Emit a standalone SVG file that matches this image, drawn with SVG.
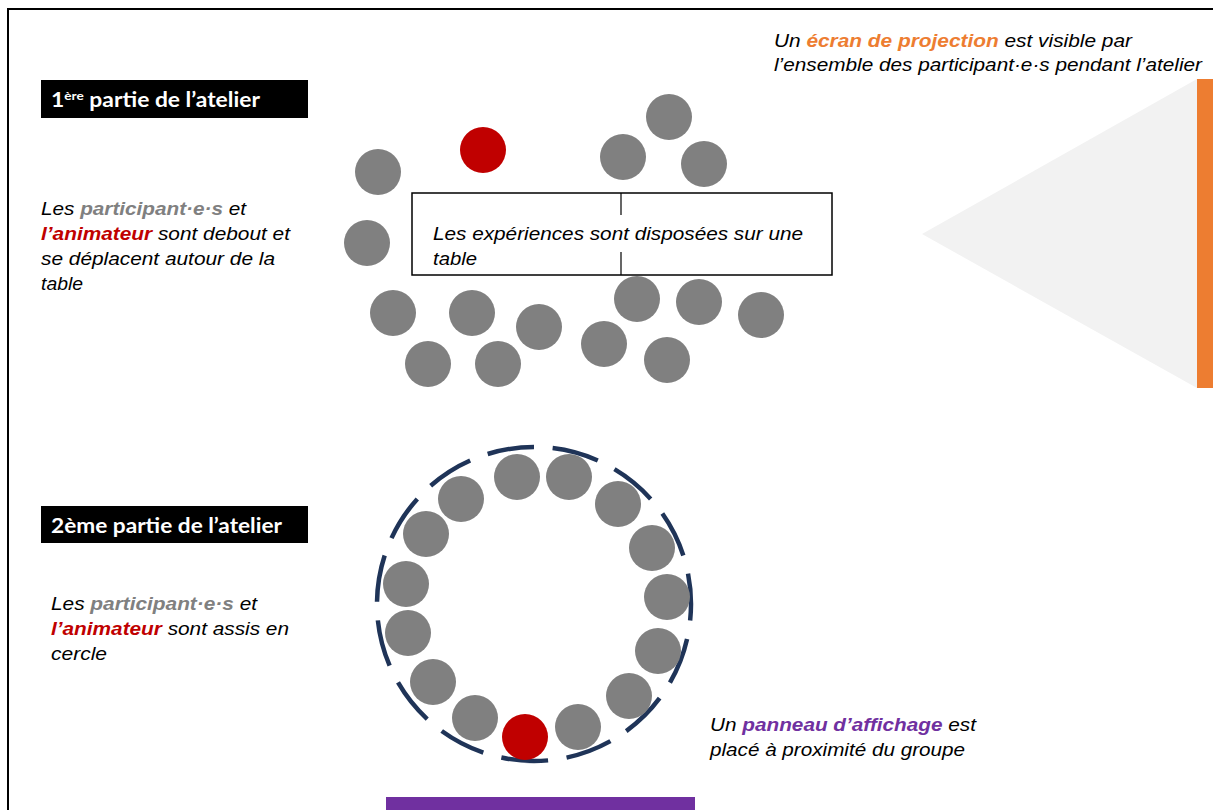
<svg xmlns="http://www.w3.org/2000/svg" width="1213" height="810" viewBox="0 0 1213 810">
<style>
.p{fill:#808080}
.a{fill:#C00000}
.t{font-family:"Liberation Sans",Arial,sans-serif;font-style:italic;font-size:18px;fill:#000}
.h{font-family:Lato,"Open Sans",sans-serif;font-weight:bold;font-size:20px;fill:#fff}
.bg{font-weight:bold;fill:#808080}
.br{font-weight:bold;fill:#C00000}
.bo{font-weight:bold;fill:#ED7D31}
.bp{font-weight:bold;fill:#7030A0}
</style>
<rect width="1213" height="810" fill="#fff"/>
<rect x="8" y="9" width="1300" height="900" fill="none" stroke="#000" stroke-width="2"/>

<g id="screen">
<polygon points="922,234 1197,79 1197,388" fill="#F2F2F2"/>
<rect x="1197" y="79" width="20" height="309" fill="#ED7D31"/>
<text class="t" x="774" y="47" textLength="358" lengthAdjust="spacingAndGlyphs">Un <tspan class="bo">écran de projection</tspan> est visible par</text>
<text class="t" x="774" y="71" textLength="428" lengthAdjust="spacingAndGlyphs">l’ensemble des participant·e·s pendant l’atelier</text>
</g>

<g id="header1">
<rect x="41" y="80" width="267" height="38" fill="#000"/>
<text class="h" x="51" y="107" textLength="209" lengthAdjust="spacingAndGlyphs">1<tspan font-size="12" dy="-7">ère</tspan><tspan dy="7"> partie de l’atelier</tspan></text>
</g>
<g id="header2">
<rect x="41" y="506" width="267" height="37" fill="#000"/>
<text class="h" x="51" y="533" textLength="231" lengthAdjust="spacingAndGlyphs">2ème partie de l’atelier</text>
</g>

<g id="desc1">
<text class="t" x="41" y="215" textLength="205" lengthAdjust="spacingAndGlyphs">Les <tspan class="bg">participant·e·s</tspan> et</text>
<text class="t" x="41" y="240" textLength="249" lengthAdjust="spacingAndGlyphs"><tspan class="br">l’animateur</tspan> sont debout et</text>
<text class="t" x="41" y="265" textLength="234" lengthAdjust="spacingAndGlyphs">se déplacent autour de la</text>
<text class="t" x="41" y="290" textLength="42" lengthAdjust="spacingAndGlyphs">table</text>
</g>

<g id="desc2">
<text class="t" x="51" y="610" textLength="206" lengthAdjust="spacingAndGlyphs">Les <tspan class="bg">participant·e·s</tspan> et</text>
<text class="t" x="51" y="635" textLength="238" lengthAdjust="spacingAndGlyphs"><tspan class="br">l’animateur</tspan> sont assis en</text>
<text class="t" x="51" y="660" textLength="56" lengthAdjust="spacingAndGlyphs">cercle</text>
</g>

<g id="table">
<rect x="412" y="193" width="420" height="82" fill="#fff" stroke="#000" stroke-width="1.5"/>
<line x1="621" y1="193" x2="621" y2="215" stroke="#000" stroke-width="1.2"/>
<line x1="621" y1="252" x2="621" y2="275" stroke="#000" stroke-width="1.2"/>
<text class="t" x="433" y="240" textLength="370" lengthAdjust="spacingAndGlyphs">Les expériences sont disposées sur une</text>
<text class="t" x="433" y="265" textLength="44" lengthAdjust="spacingAndGlyphs">table</text>
</g>

<g id="standing">
<circle class="p" cx="378" cy="172" r="23"/>
<circle class="a" cx="483" cy="150" r="23"/>
<circle class="p" cx="669" cy="117" r="23"/>
<circle class="p" cx="623" cy="157" r="23"/>
<circle class="p" cx="704" cy="164" r="23"/>
<circle class="p" cx="367" cy="243" r="23"/>
<circle class="p" cx="393" cy="313" r="23"/>
<circle class="p" cx="472" cy="313" r="23"/>
<circle class="p" cx="539" cy="327" r="23"/>
<circle class="p" cx="428" cy="364" r="23"/>
<circle class="p" cx="498" cy="364" r="23"/>
<circle class="p" cx="637" cy="299" r="23"/>
<circle class="p" cx="699" cy="302" r="23"/>
<circle class="p" cx="761" cy="315" r="23"/>
<circle class="p" cx="604" cy="344" r="23"/>
<circle class="p" cx="667" cy="360" r="23"/>
</g>

<g id="seated">
<circle cx="534" cy="604" r="157" fill="none" stroke="#1F3458" stroke-width="4.5" stroke-dasharray="47 18.73" stroke-dashoffset="30.5"/>
<circle class="p" cx="517" cy="477" r="23"/>
<circle class="p" cx="569" cy="477" r="23"/>
<circle class="p" cx="618" cy="504" r="23"/>
<circle class="p" cx="652" cy="548" r="23"/>
<circle class="p" cx="667" cy="597" r="23"/>
<circle class="p" cx="658" cy="651" r="23"/>
<circle class="p" cx="629" cy="696" r="23"/>
<circle class="p" cx="578" cy="727" r="23"/>
<circle class="a" cx="525" cy="737" r="23"/>
<circle class="p" cx="475" cy="718" r="23"/>
<circle class="p" cx="433" cy="682" r="23"/>
<circle class="p" cx="408" cy="633" r="23"/>
<circle class="p" cx="406" cy="584" r="23"/>
<circle class="p" cx="426" cy="534" r="23"/>
<circle class="p" cx="461" cy="499" r="23"/>
</g>

<g id="board">
<rect x="386" y="797" width="309" height="20" fill="#7030A0"/>
<text class="t" x="710" y="731" textLength="266" lengthAdjust="spacingAndGlyphs">Un <tspan class="bp">panneau d’affichage</tspan> est</text>
<text class="t" x="710" y="756" textLength="255" lengthAdjust="spacingAndGlyphs">placé à proximité du groupe</text>
</g>
</svg>
